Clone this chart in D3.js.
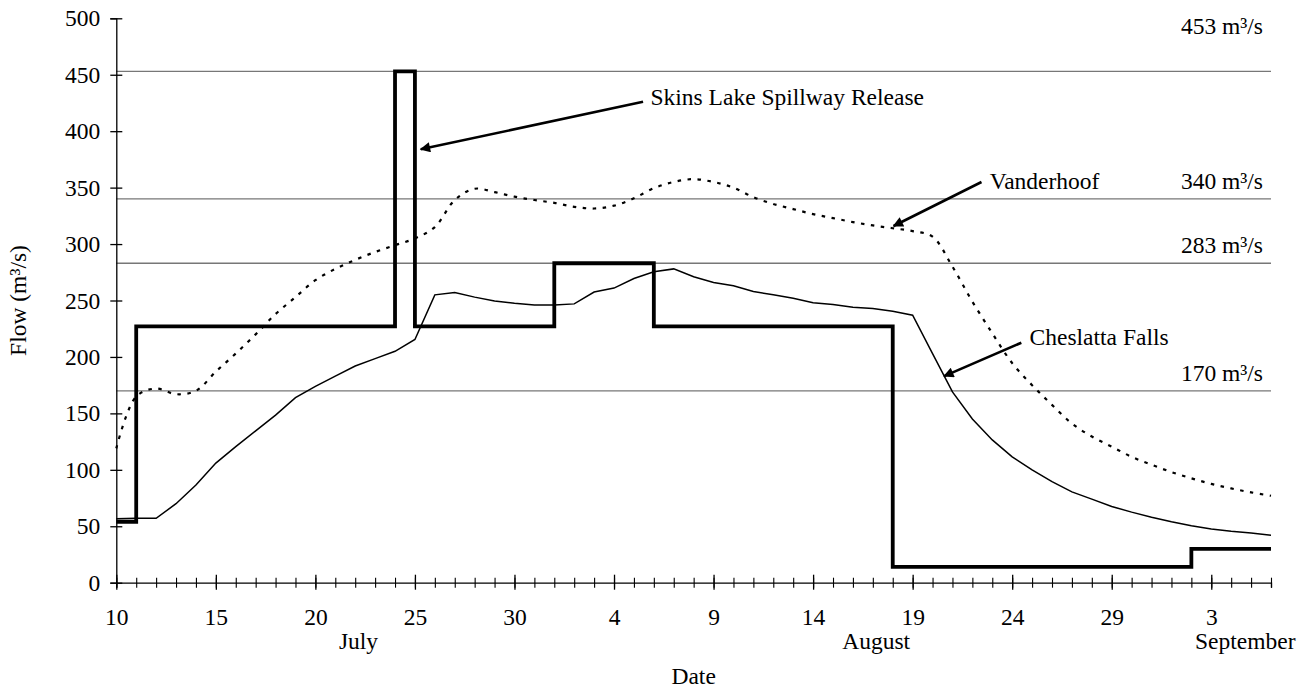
<!DOCTYPE html>
<html>
<head>
<meta charset="utf-8">
<script src="https://cdn.jsdelivr.net/npm/d3@7"></script>
<style>
  body { margin: 0; background: #fff; }
  text { font-family: "Liberation Serif", "Times New Roman", serif; fill: #000; }
</style>
</head>
<body>
<div id="chart"></div>
<script>
// daily flows, July 10 .. September 6
const startDate = new Date(Date.UTC(2000, 6, 10))
const endDate = new Date(Date.UTC(2000, 8, 6))
const days = d3.utcDay.range(startDate, d3.utcDay.offset(endDate, 1))

const cheslattaFalls = [
  56.7, 57, 57, 70, 86.5, 106, 120.5, 134.5, 148.5, 164,
  174, 183, 192, 198.5, 205, 215.5, 255, 257, 253, 249.5,
  247.5, 246, 246, 247, 257.5, 261, 269.5, 275.5, 278, 271,
  266, 263, 258, 255, 252, 248, 246.5, 244, 243, 240.5,
  237, 203, 169, 145, 126.5, 111.5, 100, 89.5, 80.5, 74,
  67.5, 62.5, 58, 54, 50.5, 47.5, 45.5, 44, 42
]

const vanderhoof = [
  119, 165, 172, 167, 170, 187, 203, 220, 238, 253,
  268, 278, 286, 293, 299, 305, 315, 339, 349, 346,
  342, 339, 336.5, 333, 331.5, 334, 340.5, 349.5, 355, 357.5,
  355, 350, 341.5, 335.5, 331, 326.5, 323, 319.5, 316.5, 314,
  311.5, 306.5, 280, 249, 221, 194.5, 175, 157.5, 141, 129.5,
  120.5, 111.5, 104.5, 98, 92.5, 87.5, 83.5, 80, 77
]

// spillway release: value holds from the date until the next one
const spillwayDates = ["2000-07-10", "2000-07-11", "2000-07-24", "2000-07-25", "2000-08-01",
                       "2000-08-06", "2000-08-18", "2000-09-02", "2000-09-06"]
const spillwayValues = [54, 227, 453, 227, 283, 227, 14, 30, 30]

const refLevels = [453, 340, 283, 170]
const refLabels = ["453 m³/s", "340 m³/s", "283 m³/s", "170 m³/s"]

const yTicks = d3.range(0, 501, 50)
const monthLabels = ["July", "August", "September"]
const monthDates = ["2000-07-22T04:00Z", "2000-08-17T04:00Z", "2000-09-04T17:00Z"]

const width = 1307
const height = 689

const svg = d3.select("#chart").append("svg")
    .attr("width", width)
    .attr("height", height)

svg.append("rect").attr("width", width).attr("height", height).attr("fill", "#fff")

const x = d3.scaleUtc()
    .domain([startDate, endDate])
    .range([116.3, 1271])

const y = d3.scaleLinear()
    .domain([0, 500])
    .range([582.7, 18.3])

const fontSize = "23.5px"

// reference lines
svg.append("g")
  .selectAll("line")
  .data(refLevels)
  .join("line")
    .attr("x1", x(startDate))
    .attr("x2", x(endDate))
    .attr("y1", d => y(d))
    .attr("y2", d => y(d))
    .attr("stroke", "#777")
    .attr("stroke-width", 1.3)

// labels sit just above their line, the top one up by the frame
svg.append("g")
  .selectAll("text")
  .data(refLevels)
  .join("text")
    .attr("x", 1263)
    .attr("y", (d, i) => i === 0 ? y(486) : y(d) - 10)
    .attr("text-anchor", "end")
    .style("font-size", fontSize)
    .text((d, i) => refLabels[i])

// y axis
const yAxis = svg.append("g")
    .attr("transform", `translate(${x(startDate)},0)`)
    .call(d3.axisLeft(y).tickValues(yTicks).tickSize(6).tickPadding(10))
yAxis.select(".domain").attr("stroke", "#000").attr("stroke-width", 1.3)
yAxis.selectAll(".tick line").attr("x1", 6).attr("stroke-width", 1.3)
yAxis.selectAll(".tick text")
    .style("font-size", fontSize)
    .style("font-family", "Liberation Serif")

// x axis: minor ticks every day, major every 5 days
const xAxisMinor = svg.append("g")
    .attr("transform", `translate(0,${y(0)})`)
    .call(d3.axisBottom(x).tickValues(days).tickSize(5).tickFormat(""))
xAxisMinor.select(".domain").attr("stroke", "#000").attr("stroke-width", 1.3)
xAxisMinor.selectAll(".tick line").attr("y1", -5).attr("stroke-width", 1.1)

const majorDays = days.filter((d, i) => i % 5 === 0)
const xAxisMajor = svg.append("g")
    .attr("transform", `translate(0,${y(0)})`)
    .call(d3.axisBottom(x).tickValues(majorDays).tickSize(7).tickPadding(19)
      .tickFormat(d3.utcFormat("%-d")))
xAxisMajor.select(".domain").remove()
xAxisMajor.selectAll(".tick line").attr("y1", -8).attr("stroke-width", 1.3)
xAxisMajor.selectAll(".tick text")
    .style("font-size", fontSize)
    .style("font-family", "Liberation Serif")

svg.append("g")
  .selectAll("text")
  .data(monthLabels)
  .join("text")
    .attr("x", (d, i) => x(new Date(monthDates[i])))
    .attr("y", 649)
    .attr("text-anchor", "middle")
    .style("font-size", fontSize)
    .text(d => d)

svg.append("text")
    .attr("x", (x.range()[0] + x.range()[1]) / 2)
    .attr("y", 684)
    .attr("text-anchor", "middle")
    .style("font-size", fontSize)
    .text("Date")

svg.append("text")
    .attr("transform", `translate(26,${y(250)}) rotate(-90)`)
    .attr("text-anchor", "middle")
    .style("font-size", fontSize)
    .text("Flow (m³/s)")

// series
const vanderhoofLine = d3.line()
    .x((d, i) => x(days[i]))
    .y(d => y(d))
    .curve(d3.curveCatmullRom.alpha(0.5))

svg.append("path")
    .datum(vanderhoof)
    .attr("d", vanderhoofLine)
    .attr("fill", "none")
    .attr("stroke", "#000")
    .attr("stroke-width", 2.2)
    .attr("stroke-dasharray", "3.5,6.5")

const cheslattaLine = d3.line()
    .x((d, i) => x(days[i]))
    .y(d => y(d))

svg.append("path")
    .datum(cheslattaFalls)
    .attr("d", cheslattaLine)
    .attr("fill", "none")
    .attr("stroke", "#000")
    .attr("stroke-width", 1.5)

const spillwayLine = d3.line()
    .x((d, i) => x(new Date(spillwayDates[i])))
    .y(d => y(d))
    .curve(d3.curveStepAfter)

svg.append("path")
    .datum(spillwayValues)
    .attr("d", spillwayLine)
    .attr("fill", "none")
    .attr("stroke", "#000")
    .attr("stroke-width", 3.8)
    .attr("stroke-linejoin", "miter")

// callouts (positions in day offsets from July 10 and flow units)
const dayPos = d => x(d3.utcHour.offset(startDate, Math.round(d * 24)))
const callouts = [
  { text: "Skins Lake Spillway Release", from: [26.45, 426], to: [15.3, 384], label: [26.85, 423] },
  { text: "Vanderhoof", from: [43.47, 355], to: [39.03, 316], label: [43.88, 348.5] },
  { text: "Cheslatta Falls", from: [45.47, 212.6], to: [41.59, 183], label: [45.86, 210.6] }
]

svg.append("defs").append("marker")
    .attr("id", "arrow")
    .attr("viewBox", "0 0 10 10")
    .attr("refX", 9)
    .attr("refY", 5)
    .attr("markerWidth", 5)
    .attr("markerHeight", 4)
    .attr("markerUnits", "strokeWidth")
    .attr("orient", "auto")
  .append("path")
    .attr("d", "M0,0L10,5L0,10z")
    .attr("fill", "#000")

const calloutGroup = svg.append("g")
calloutGroup.selectAll("line")
  .data(callouts)
  .join("line")
    .attr("x1", d => dayPos(d.from[0]))
    .attr("y1", d => y(d.from[1]))
    .attr("x2", d => dayPos(d.to[0]))
    .attr("y2", d => y(d.to[1]))
    .attr("stroke", "#000")
    .attr("stroke-width", 2.6)
    .attr("marker-end", "url(#arrow)")

calloutGroup.selectAll("text")
  .data(callouts)
  .join("text")
    .attr("x", d => dayPos(d.label[0]))
    .attr("y", d => y(d.label[1]))
    .style("font-size", fontSize)
    .text(d => d.text)
</script>
</body>
</html>
